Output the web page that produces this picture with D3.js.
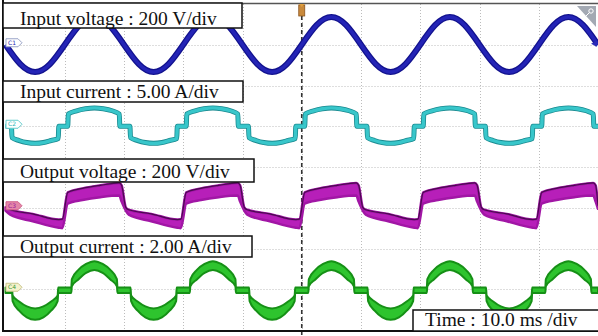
<!DOCTYPE html>
<html>
<head>
<meta charset="utf-8">
<script src="https://cdn.jsdelivr.net/npm/d3@7"></script>
<style>
  body { margin: 0; background: #fff; }
  svg { display: block; }
</style>
</head>
<body>
<svg id="main" width="598" height="336"></svg>
<script>
// time in ms (trigger at 0), values in V or A
const inputVoltage = [[-50,0],[-47.5,-95],[-45,-134],[-42.5,-95],[-40,0],[-37.5,96],[-35,136],[-32.5,96],[-30,0],[-27.5,-95],[-25,-134],[-22.5,-95],[-20,0],[-17.5,96],[-15,136],[-12.5,96],[-10,0],[-7.5,-95],[-5,-134],[-2.5,-95],[0,0],[2.5,96],[5,136],[7.5,96],[10,0],[12.5,-95],[15,-134],[17.5,-95],[20,0],[22.5,96],[25,136],[27.5,96],[30,0],[32.5,-95],[35,-134],[37.5,-95],[40,0],[42.5,96],[45,136],[47.5,96],[50,0]];

const inputCurrent = [[-50,0],[-49.0,0],[-48.9,-1.4],[-47.7,-1.75],[-46.4,-2.0],[-45,-2.1],[-43.6,-2.0],[-42.3,-1.75],[-41.1,-1.5],[-41.0,0],
  [-39.5,0],[-39.4,1.5],[-38,1.9],[-36.5,2.15],[-35,2.25],[-33.5,2.15],[-32,1.9],[-30.8,1.5],[-30.7,0],[-29.0,0],[-28.9,-1.4],[-27.7,-1.75],[-26.4,-2.0],[-25,-2.1],[-23.6,-2.0],[-22.3,-1.75],[-21.1,-1.5],[-21.0,0],
  [-19.5,0],[-19.4,1.5],[-18,1.9],[-16.5,2.15],[-15,2.25],[-13.5,2.15],[-12,1.9],[-10.8,1.5],[-10.7,0],[-9.0,0],[-8.9,-1.4],[-7.7,-1.75],[-6.4,-2.0],[-5,-2.1],[-3.6,-2.0],[-2.3,-1.75],[-1.1,-1.5],[-1.0,0],
  [0.5,0],[0.6,1.5],[2,1.9],[3.5,2.15],[5,2.25],[6.5,2.15],[8,1.9],[9.2,1.5],[9.3,0],[11.0,0],[11.1,-1.4],[12.3,-1.75],[13.6,-2.0],[15,-2.1],[16.4,-2.0],[17.7,-1.75],[18.9,-1.5],[19.0,0],
  [20.5,0],[20.6,1.5],[22,1.9],[23.5,2.15],[25,2.25],[26.5,2.15],[28,1.9],[29.2,1.5],[29.3,0],[31.0,0],[31.1,-1.4],[32.3,-1.75],[33.6,-2.0],[35,-2.1],[36.4,-2.0],[37.7,-1.75],[38.9,-1.5],[39.0,0],
  [40.5,0],[40.6,1.5],[42,1.9],[43.5,2.15],[45,2.25],[46.5,2.15],[48,1.9],[49.2,1.5],[49.3,0],[50,0]];

// [t, lower edge, upper edge] of the thick band
const outputVoltage = [[-50,-14,2],[-49.2,-34,-10],[-45.4,-66,-30],[-41,-98,-58],[-40.4,-100,-56],
  [-39.5,20,75],[-37,38,95],[-34,52,110],[-30.8,60,122],[-30.4,30,110],[-29.7,-14,2],[-29.2,-34,-10],[-25.4,-66,-30],[-21,-98,-58],[-20.4,-100,-56],
  [-19.5,20,75],[-17,38,95],[-14,52,110],[-10.8,60,122],[-10.4,30,110],[-9.7,-14,2],[-9.2,-34,-10],[-5.4,-66,-30],[-1,-98,-58],[-0.4,-100,-56],
  [0.5,20,75],[3,38,95],[6,52,110],[9.2,60,122],[9.6,30,110],[10.3,-14,2],[10.8,-34,-10],[14.6,-66,-30],[19,-98,-58],[19.6,-100,-56],
  [20.5,20,75],[23,38,95],[26,52,110],[29.2,60,122],[29.6,30,110],[30.3,-14,2],[30.8,-34,-10],[34.6,-66,-30],[39,-98,-58],[39.6,-100,-56],
  [40.5,20,75],[43,38,95],[46,52,110],[49.2,60,122],[49.6,30,110],[50,-5,10]];

const outputCurrent = [[-50,-0.18,0.08],[-48.9,-0.18,0.08],[-48.8,-0.58,-0.3],[-47.7,-1.05,-0.6],[-46.4,-1.38,-0.84],[-45,-1.5,-0.94],[-43.6,-1.38,-0.84],[-42.3,-1.05,-0.6],[-41.2,-0.58,-0.3],[-41.1,-0.18,0.08],
  [-38.9,-0.18,0.08],[-38.8,0.15,0.5],[-37.7,0.48,0.95],[-36.4,0.8,1.24],[-35,0.94,1.38],[-33.6,0.8,1.24],[-32.3,0.48,0.95],[-31.2,0.15,0.5],[-31.1,-0.18,0.08],
  [-28.9,-0.18,0.08],[-28.8,-0.58,-0.3],[-27.7,-1.05,-0.6],[-26.4,-1.38,-0.84],[-25,-1.5,-0.94],[-23.6,-1.38,-0.84],[-22.3,-1.05,-0.6],[-21.2,-0.58,-0.3],[-21.1,-0.18,0.08],
  [-18.9,-0.18,0.08],[-18.8,0.15,0.5],[-17.7,0.48,0.95],[-16.4,0.8,1.24],[-15,0.94,1.38],[-13.6,0.8,1.24],[-12.3,0.48,0.95],[-11.2,0.15,0.5],[-11.1,-0.18,0.08],
  [-8.9,-0.18,0.08],[-8.8,-0.58,-0.3],[-7.7,-1.05,-0.6],[-6.4,-1.38,-0.84],[-5,-1.5,-0.94],[-3.6,-1.38,-0.84],[-2.3,-1.05,-0.6],[-1.2,-0.58,-0.3],[-1.1,-0.18,0.08],
  [1.1,-0.18,0.08],[1.2,0.15,0.5],[2.3,0.48,0.95],[3.6,0.8,1.24],[5,0.94,1.38],[6.4,0.8,1.24],[7.7,0.48,0.95],[8.8,0.15,0.5],[8.9,-0.18,0.08],
  [11.1,-0.18,0.08],[11.2,-0.58,-0.3],[12.3,-1.05,-0.6],[13.6,-1.38,-0.84],[15,-1.5,-0.94],[16.4,-1.38,-0.84],[17.7,-1.05,-0.6],[18.8,-0.58,-0.3],[18.9,-0.18,0.08],
  [21.1,-0.18,0.08],[21.2,0.15,0.5],[22.3,0.48,0.95],[23.6,0.8,1.24],[25,0.94,1.38],[26.4,0.8,1.24],[27.7,0.48,0.95],[28.8,0.15,0.5],[28.9,-0.18,0.08],
  [31.1,-0.18,0.08],[31.2,-0.58,-0.3],[32.3,-1.05,-0.6],[33.6,-1.38,-0.84],[35,-1.5,-0.94],[36.4,-1.38,-0.84],[37.7,-1.05,-0.6],[38.8,-0.58,-0.3],[38.9,-0.18,0.08],
  [41.1,-0.18,0.08],[41.2,0.15,0.5],[42.3,0.48,0.95],[43.6,0.8,1.24],[45,0.94,1.38],[46.4,0.8,1.24],[47.7,0.48,0.95],[48.8,0.15,0.5],[48.9,-0.18,0.08],[50,-0.18,0.08]];

const labels = ["Input voltage : 200 V/div", "Input current : 5.00 A/div", "Output voltage : 200 V/div", "Output current : 2.00 A/div"];
const timeLabel = "Time : 10.0 ms /div";
const channelNames = ["C1", "C2", "C3", "C4"];
const perDiv = [200, 5, 200, 2];
const channelOffset = [3, 1, -1, -3];   // zero level in divisions from centre

const size = {width: 598, height: 336, left: 5.5, right: 598, top: 4, bottom: 330};

const x = d3.scaleLinear([-50, 50], [size.left, size.right]);
const yDiv = d3.scaleLinear([4, -4], [size.top, size.bottom]);
const yCh = i => v => yDiv(channelOffset[i] + v / perDiv[i]);

const svg = d3.select("#main");
svg.append("rect").attr("width", size.width).attr("height", size.height).attr("fill", "#fff");

// grid
const grid = svg.append("g").attr("stroke", "#bcbcbc").attr("stroke-width", 1).attr("stroke-dasharray", "1,2");
grid.selectAll("line.v")
    .data(d3.range(-40, 50, 10))
    .join("line")
    .attr("x1", d => Math.round(x(d)) + 0.5).attr("x2", d => Math.round(x(d)) + 0.5)
    .attr("y1", size.top).attr("y2", size.bottom);
grid.selectAll("line.h")
    .data(d3.range(-3, 4))
    .join("line")
    .attr("y1", d => Math.round(yDiv(d)) + 0.5).attr("y2", d => Math.round(yDiv(d)) + 0.5)
    .attr("x1", size.left).attr("x2", size.right);

// trigger line
svg.append("line")
    .attr("x1", x(0)).attr("x2", x(0)).attr("y1", 16).attr("y2", size.height)
    .attr("stroke", "#333").attr("stroke-width", 1.6).attr("stroke-dasharray", "4,3");

// C1 input voltage
const vLine = d3.line().x(d => x(d[0])).y(d => yCh(0)(d[1])).curve(d3.curveNatural);
svg.append("path").attr("d", vLine(inputVoltage))
    .attr("fill", "none").attr("stroke", "#12128e").attr("stroke-width", 6).attr("stroke-linejoin", "round");
svg.append("path").attr("d", vLine(inputVoltage))
    .attr("fill", "none").attr("stroke", "#2424b6").attr("stroke-width", 3.5);

// C2 input current
const iLine = d3.line().x(d => x(d[0])).y(d => yCh(1)(d[1])).curve(d3.curveMonotoneX);
svg.append("path").attr("d", iLine(inputCurrent))
    .attr("fill", "none").attr("stroke", "#1a8a90").attr("stroke-width", 5);
svg.append("path").attr("d", iLine(inputCurrent))
    .attr("fill", "none").attr("stroke", "#38c6ca").attr("stroke-width", 3.4);

// C3 output voltage band
const ovArea = d3.area().x(d => x(d[0])).y0(d => yCh(2)(d[1])).y1(d => yCh(2)(d[2])).curve(d3.curveMonotoneX);
const ovTop = d3.line().x(d => x(d[0])).y(d => yCh(2)(d[2])).curve(d3.curveMonotoneX);
svg.append("path").attr("d", ovArea(outputVoltage))
    .attr("fill", "#b71fb9").attr("stroke", "#a116a5").attr("stroke-width", 2.5).attr("stroke-linejoin", "round");
svg.append("path").attr("d", ovTop(outputVoltage))
    .attr("fill", "none").attr("stroke", "#4a0a50").attr("stroke-width", 1.2);

// C4 output current band
const ocArea = d3.area().x(d => x(d[0])).y0(d => yCh(3)(d[1])).y1(d => yCh(3)(d[2])).curve(d3.curveMonotoneX);
svg.append("path").attr("d", ocArea(outputCurrent))
    .attr("fill", "#2ec42e").attr("stroke", "#169016").attr("stroke-width", 2).attr("stroke-linejoin", "round");

// channel markers
const markerFill = ["#ffffff", "#ffffff", "#e487a8", "#f6f2cc"];
const markerStroke = ["#9aa4c8", "#66cccc", "#d0608a", "#c9c48a"];
const markerText = ["#2a2ab0", "#2ab5b8", "#9a1a9a", "#3a9a3a"];
const markers = svg.append("g").selectAll("g")
    .data(channelNames)
    .join("g")
    .attr("transform", (d, i) => `translate(6, ${yCh(i)(0) - 2})`);
markers.append("path")
    .attr("d", "M0,-4 L12,-4 L16,0 L12,4 L0,4 Z")
    .attr("fill", (d, i) => markerFill[i])
    .attr("stroke", (d, i) => markerStroke[i]).attr("stroke-width", 1);
markers.append("text")
    .attr("x", 2).attr("y", 2.2)
    .attr("font-family", "DejaVu Sans").attr("font-size", 6)
    .attr("fill", (d, i) => markerText[i])
    .text(d => d);

// frame
svg.append("line").attr("x1", 3).attr("x2", 598).attr("y1", 3.5).attr("y2", 3.5)
    .attr("stroke", "#555").attr("stroke-width", 1.5);
svg.append("line").attr("x1", 3).attr("x2", 3).attr("y1", 0).attr("y2", 332)
    .attr("stroke", "#111").attr("stroke-width", 2);
svg.append("line").attr("x1", 3).attr("x2", 598).attr("y1", 331).attr("y2", 331)
    .attr("stroke", "#111").attr("stroke-width", 2);

// top markers
svg.append("rect").attr("x", x(0) - 3).attr("y", 5).attr("width", 6).attr("height", 11)
    .attr("fill", "#c98a3c").attr("stroke", "#8a5520").attr("stroke-width", 0.8);
svg.append("path").attr("d", `M${x(0) - 3},4 L${x(0) + 3},4 L${x(0)},7 Z`).attr("fill", "#e0a040");
svg.append("path").attr("d", "M577,6 L596,6 L596,27 Z").attr("fill", "#a3a9b3");
svg.append("circle").attr("cx", 591).attr("cy", 11).attr("r", 2.2).attr("fill", "none").attr("stroke", "#fff").attr("stroke-width", 1);
svg.append("line").attr("x1", 589.5).attr("y1", 12.5).attr("x2", 586).attr("y2", 16).attr("stroke", "#fff").attr("stroke-width", 1);
svg.append("path").attr("d", `M591,${yCh(0)(0) - 1} L597,${yCh(0)(0) - 4} L597,${yCh(0)(0) + 2} Z`).attr("fill", "#2a2ab8");

// label boxes
const boxes = [
    {x: 3, y: 3, w: 239, h: 25, ty: 25},
    {x: 3, y: 81, w: 240, h: 21, ty: 98},
    {x: 3, y: 159, w: 251, h: 23, ty: 178},
    {x: 3, y: 236, w: 249, h: 21, ty: 253}
];
const lab = svg.append("g").selectAll("g")
    .data(labels)
    .join("g");
lab.append("rect")
    .attr("x", (d, i) => boxes[i].x).attr("y", (d, i) => boxes[i].y)
    .attr("width", (d, i) => boxes[i].w).attr("height", (d, i) => boxes[i].h)
    .attr("fill", "#fff").attr("stroke", "#111").attr("stroke-width", 1.5);
lab.append("text")
    .attr("x", 20).attr("y", (d, i) => boxes[i].ty)
    .attr("font-family", "Liberation Serif, Times New Roman, serif").attr("font-size", 19.5)
    .attr("fill", "#111")
    .text(d => d);

svg.append("rect").attr("x", 413).attr("y", 310).attr("width", 190).attr("height", 21)
    .attr("fill", "#fff").attr("stroke", "#111").attr("stroke-width", 1.5);
svg.append("text").attr("x", 425).attr("y", 326)
    .attr("font-family", "Liberation Serif, Times New Roman, serif").attr("font-size", 19.5)
    .attr("fill", "#111").text(timeLabel);
</script>
</body>
</html>
